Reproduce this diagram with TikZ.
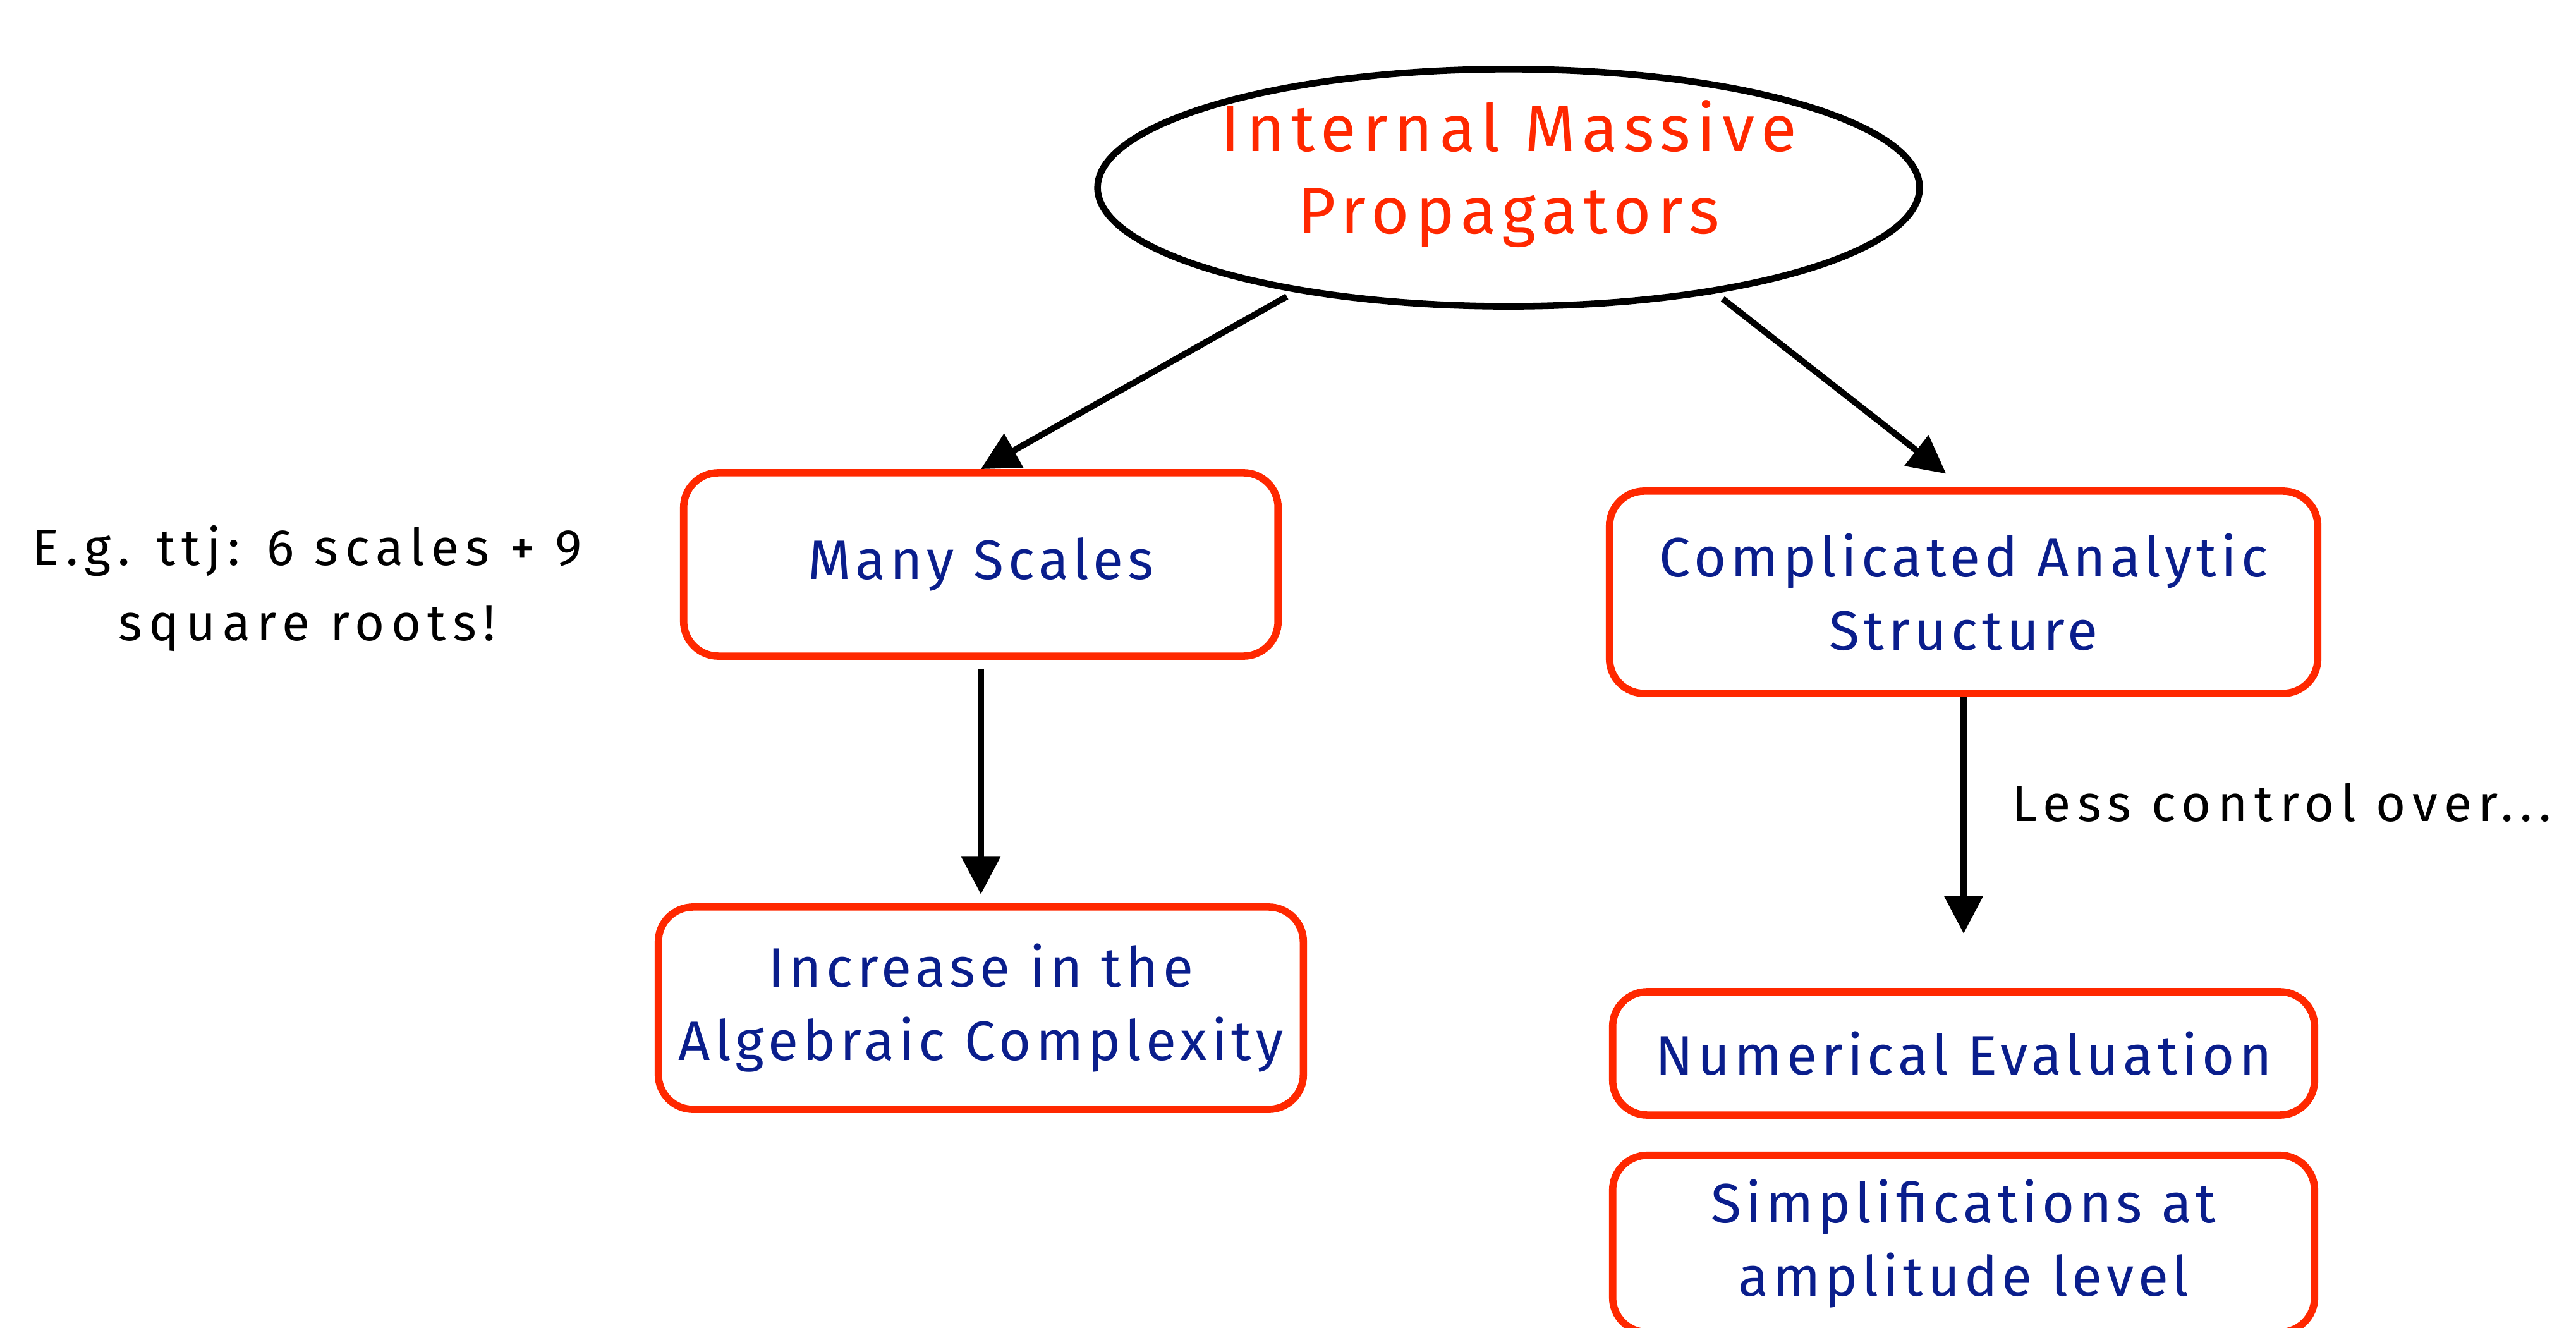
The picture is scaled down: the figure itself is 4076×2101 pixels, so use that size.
\documentclass[tikz,border=0pt]{standalone}
\usepackage{fontspec}
\setmainfont{Fira Sans}
\newfontfamily\titlefont[LetterSpace=10]{Fira Sans}
\newfontfamily\boxfont[LetterSpace=8]{Fira Sans}
\newfontfamily\notefont[LetterSpace=13]{Fira Sans}
\usetikzlibrary{arrows.meta,shapes,positioning}
\definecolor{penred}{RGB}{255,40,0}
\definecolor{inkblue}{RGB}{10,30,140}

\begin{document}
\begin{tikzpicture}[x=0.01cm,y=-0.01cm,->,>={Triangle[length=17pt,width=17pt]},
                    line width=2.8pt,node distance=1cm,
                    every text node part/.style={align=center}]
  \tikzstyle{topic}=[ellipse,draw=black,line width=3pt,inner sep=0pt,
                     minimum width=13cm,minimum height=3.75cm]
  \tikzstyle{title}=[text=penred,font=\titlefont\fontsize{29.5}{37}\selectfont,yshift=0.22cm]
  \tikzstyle{box}=[rectangle,rounded corners=0.55cm,draw=penred,line width=3.3pt,
                   text=inkblue,font=\boxfont\fontsize{25}{33}\selectfont]
  \tikzstyle{remark}=[text=black,font=\notefont\fontsize{23}{34}\selectfont]

  \useasboundingbox (0,0) rectangle (4076,2101);

  \node[topic,label={[title]center:Internal Massive\\Propagators}] (IMP) at (2387,297) {};
  \node[box,minimum width=9.4cm,minimum height=2.9cm] (MS) at (1552,893) {Many Scales};
  \node[box,minimum width=11.2cm,minimum height=3.2cm] (CAS) at (3107,937)
       {Complicated Analytic\\Structure};
  \node[box,minimum width=10.2cm,minimum height=3.2cm] (AC) [below=3.85cm of MS]
       {Increase in the\\Algebraic Complexity};
  \node[box,minimum width=11.1cm,minimum height=1.95cm] (NE) [below=4.6cm of CAS]
       {Numerical Evaluation};
  \node[box,minimum width=11.1cm,minimum height=2.8cm] (SAL) [below=0.52cm of NE]
       {Simplifications at\\amplitude level};
  \node[remark] (eg) at (486,931) {E.g. ttj: 6 scales + 9\\square roots!};
  \coordinate (ctrl) at (3107,1477);

  \path (IMP.206) edge [shorten <=4pt] (MS.north)
        (IMP.333) edge [shorten <=4pt,shorten >=10pt] (CAS.north)
        (MS.south) edge [shorten <=4pt,shorten >=4pt] (AC.north)
        (CAS.south) edge node[remark,right=0.6cm,yshift=0.2cm] {Less control over...} (ctrl);
\end{tikzpicture}
\end{document}
